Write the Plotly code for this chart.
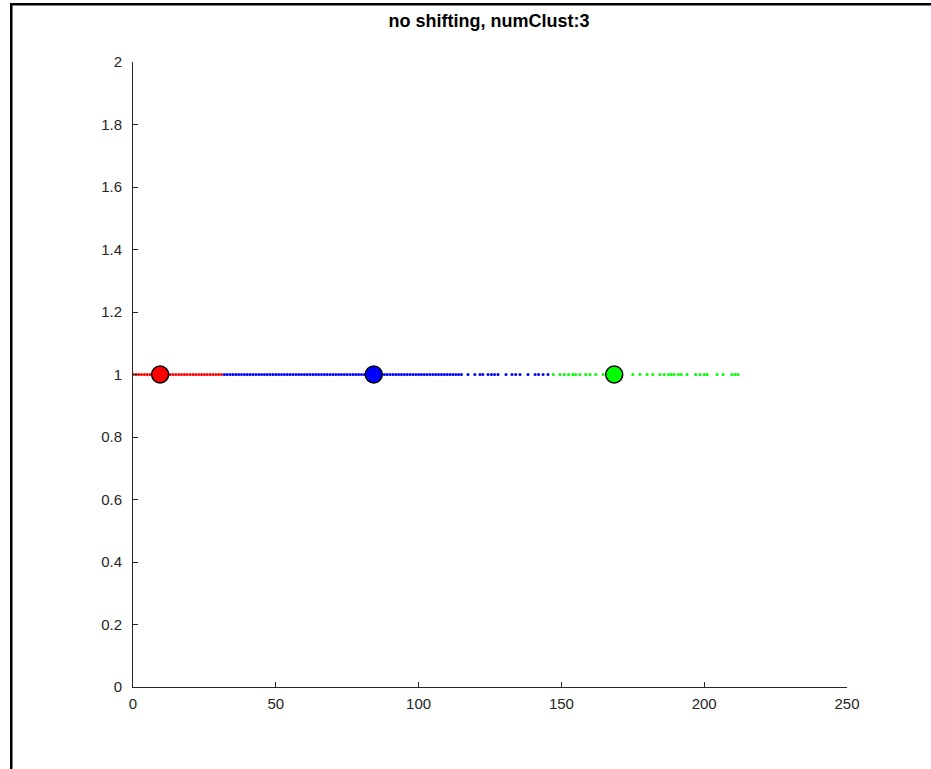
import plotly.graph_objects as go

# ---- data ----
red_x = [0, 1, 2, 3, 4, 5, 6, 7, 8, 9, 10, 11, 12, 13, 14, 15, 16, 17, 18, 19,
         20, 21, 22, 23, 24, 25, 26, 27, 28, 29, 30, 31]
blue_x = [32, 33, 34, 35, 36, 37, 38, 39, 40, 41, 42, 43, 44, 45, 46, 47, 48, 49,
          50, 51, 52, 53, 54, 55, 56, 57, 58, 59, 60, 61, 62, 63, 64, 65, 66, 67,
          68, 69, 70, 71, 72, 73, 74, 75, 76, 77, 78, 79, 80, 81, 82, 83, 84, 85,
          86, 87, 88, 89, 90, 91, 92, 93, 94, 95, 96, 97, 98, 99, 100, 101, 102,
          103, 104, 105, 106, 107, 108, 109, 110, 111, 112, 113, 114, 115,
          117.3, 119.7, 121.5, 122.5, 124.3, 125.5, 126.6, 127.8, 130.6, 132.7,
          134.0, 135.5, 138.3, 140.8, 142.0, 143.6, 145.3]
green_x = [147.2, 149.5, 151.0, 152.5, 154.0, 155.0, 156.5, 158.5, 160.0, 162.0,
           164.6, 175.0, 177.5, 180.0, 182.0, 184.5, 186.0, 187.5, 188.5, 189.5,
           191.0, 192.0, 194.0, 197.0, 198.5, 200.0, 201.0, 204.5, 206.6, 209.7,
           210.8, 211.8]
centroid_x = [9.5, 84.3, 168.5]
centroid_y = [1, 1, 1]
centroid_colors = ["#ff0000", "#0000ff", "#00ff00"]
title_text = "no shifting, numClust:3"
x_ticks = [0, 50, 100, 150, 200, 250]
y_ticks = [0, 0.2, 0.4, 0.6, 0.8, 1, 1.2, 1.4, 1.6, 1.8, 2]

FONT = "Liberation Sans, Arial, Helvetica, sans-serif"

fig = go.Figure()
for xs, col in [(red_x, "#ff0000"), (blue_x, "#0000ff"), (green_x, "#00ff00")]:
    fig.add_trace(go.Scatter(x=xs, y=[1] * len(xs), mode="markers",
                             marker=dict(size=3, color=col, line=dict(width=0)),
                             showlegend=False, hoverinfo="x"))
fig.add_trace(go.Scatter(x=centroid_x, y=centroid_y, mode="markers",
                         marker=dict(size=17, color=centroid_colors,
                                     line=dict(color="black", width=1.5)),
                         showlegend=False))

L, R, T, B = 133, 931 - 847, 62, 769 - 687
W, H = 931, 769
pw, ph = W - L - R, H - T - B

def px(xp):
    return (xp - L) / pw

def py(yp):
    return (H - B - yp) / ph

fig.update_layout(
    width=W, height=H,
    margin=dict(l=L, r=R, t=T, b=B),
    paper_bgcolor="white", plot_bgcolor="white",
    font=dict(family=FONT, size=15, color="#262626"),
    title=dict(text="<b>" + title_text + "</b>", x=px(489), xref="paper",
               xanchor="center", y=1 - 21 / H, yanchor="middle",
               font=dict(family=FONT, size=18, color="black")),
    xaxis=dict(range=[0, 250], tickvals=x_ticks, ticks="inside", ticklen=5,
               tickcolor="#262626", showline=True, linecolor="#262626",
               linewidth=1, showgrid=False, zeroline=False, mirror=False,
               ticklabelstandoff=3,
               tickfont=dict(size=15, color="#262626")),
    yaxis=dict(range=[0, 2], tickvals=y_ticks, ticks="inside", ticklen=5,
               tickcolor="#262626", showline=True, linecolor="#262626",
               linewidth=1, showgrid=False, zeroline=False, mirror=False,
               ticklabelstandoff=7,
               tickfont=dict(size=15, color="#262626")),
    shapes=[
        dict(type="rect", xref="paper", yref="paper",
             x0=px(10), x1=px(12.5), y0=py(H), y1=py(3),
             fillcolor="black", line=dict(width=0)),
        dict(type="rect", xref="paper", yref="paper",
             x0=px(10), x1=px(W), y0=py(5.5), y1=py(3),
             fillcolor="black", line=dict(width=0)),
    ],
)

fig.write_html("out.html")
